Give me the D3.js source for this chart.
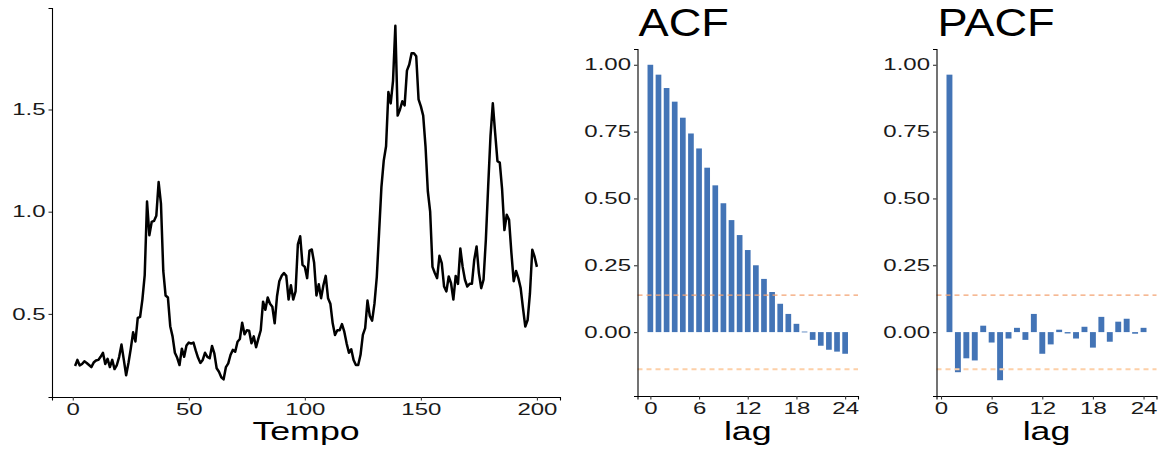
<!DOCTYPE html>
<html>
<head>
<meta charset="utf-8">
<script src="https://cdn.jsdelivr.net/npm/d3@7"></script>
<style>
  html, body { margin: 0; padding: 0; background: #fff; }
  svg { display: block; font-family: "Liberation Sans", Arial, sans-serif; }
</style>
</head>
<body>
<svg id="chart" width="1166" height="450"></svg>
<script>
// Observed series, t = 1..200
const serie = [
  0.245, 0.275, 0.248, 0.255, 0.268, 0.26, 0.25, 0.24, 0.262, 0.272,
  0.275, 0.29, 0.31, 0.255, 0.28, 0.24, 0.275, 0.23, 0.25, 0.29,
  0.35, 0.275, 0.2, 0.26, 0.33, 0.41, 0.365, 0.48, 0.485, 0.57,
  0.69, 1.05, 0.885, 0.95, 0.955, 0.98, 1.145, 1.04, 0.71, 0.59,
  0.58, 0.44, 0.39, 0.31, 0.285, 0.25, 0.33, 0.29, 0.345, 0.36,
  0.355, 0.36, 0.32, 0.285, 0.26, 0.275, 0.31, 0.29, 0.283, 0.343,
  0.307, 0.234, 0.217, 0.19, 0.18, 0.24, 0.258, 0.30, 0.324, 0.315,
  0.364, 0.377, 0.457, 0.40, 0.42, 0.418, 0.356, 0.39, 0.337, 0.38,
  0.42, 0.56, 0.52, 0.58, 0.55, 0.535, 0.454, 0.585, 0.66, 0.686,
  0.70, 0.686, 0.57, 0.64, 0.57, 0.61, 0.84, 0.88, 0.74, 0.73,
  0.675, 0.81, 0.815, 0.75, 0.59, 0.645, 0.577, 0.64, 0.686, 0.577,
  0.55, 0.454, 0.397, 0.42, 0.42, 0.45, 0.413, 0.356, 0.31, 0.327,
  0.275, 0.25, 0.25, 0.30, 0.397, 0.43, 0.565, 0.49, 0.467, 0.55,
  0.68, 0.90, 1.12, 1.25, 1.32, 1.585, 1.53, 1.64, 1.91, 1.47,
  1.50, 1.54, 1.52, 1.69, 1.72, 1.775, 1.775, 1.76, 1.55, 1.515,
  1.47, 1.32, 1.10, 1.00, 0.73, 0.70, 0.675, 0.784, 0.748, 0.634,
  0.61, 0.683, 0.65, 0.57, 0.686, 0.647, 0.82, 0.73, 0.667, 0.634,
  0.647, 0.647, 0.765, 0.83, 0.70, 0.626, 0.667, 0.863, 1.124, 1.37,
  1.53, 1.386, 1.247, 1.24, 1.11, 0.91, 0.985, 0.96, 0.80, 0.66,
  0.71, 0.675, 0.626, 0.528, 0.438, 0.47, 0.60, 0.814, 0.78, 0.73
];

// Autocorrelation, lags 0..24
const acfLags = d3.range(0, 25);
const acfValues = [
  1.000, 0.963, 0.913, 0.862, 0.802, 0.743, 0.687, 0.615, 0.549, 0.482,
  0.419, 0.363, 0.307, 0.250, 0.199, 0.150, 0.106, 0.068, 0.031, 0.002,
  -0.029, -0.051, -0.066, -0.073, -0.081
];

// Partial autocorrelation, lags 1..24
const pacfLags = d3.range(1, 25);
const pacfValues = [
  0.963, -0.150, -0.098, -0.106, 0.024, -0.039, -0.180, -0.024, 0.016, -0.029,
  0.068, -0.081, -0.046, 0.009, -0.005, -0.024, 0.020, -0.058, 0.057, -0.036,
  0.039, 0.050, -0.006, 0.016
];

const tsTicks = [0.5, 1.0, 1.5];
const timeTicks = [0, 50, 100, 150, 200];
const corrTicks = [0, 0.25, 0.5, 0.75, 1.0];
const lagTicks = [0, 6, 12, 18, 24];
const nObs = serie.length;
const band = 1.96 / Math.sqrt(nObs);

const svg = d3.select("#chart");
const barColor = "#4374B6";
const tickFont = 16;
const tickStretch = 1.5;   // wide glyphs for tick labels
const labelStretch = 1.43; // axis titles
const titleStretch = 1.19; // panel titles

// expand a [min,max] range by 5% on each side
function expand(ext, f = 0.05) {
  const r = ext[1] - ext[0];
  return [ext[0] - r * f, ext[1] + r * f];
}

// widen text horizontally around its anchor point
function stretchText(sel, s) {
  sel.each(function () {
    const t = d3.select(this);
    const x = +t.attr("x") || 0;
    t.attr("x", x / s).attr("transform", `scale(${s},1)`);
  });
}

function styleAxis(g) {
  g.selectAll(".domain").attr("stroke", "#000").attr("stroke-width", 1.1);
  g.selectAll(".tick line").attr("stroke", "#333").attr("stroke-width", 1.1);
  const txt = g.selectAll(".tick text").attr("fill", "#1a1a1a").style("font-size", tickFont + "px")
    .style("font-family", "'Liberation Sans', Arial, sans-serif");
  stretchText(txt, tickStretch);
}

function wideText(x, y, size, s, anchor, str) {
  svg.append("text")
    .attr("transform", `translate(${x},${y}) scale(${s},1)`)
    .attr("text-anchor", anchor)
    .style("font-size", size + "px").attr("fill", "#000").text(str);
}

// ---------- Time series panel ----------
{
  const left = 52, right = 560, top = 8, bottom = 397;
  const tData = serie.map((v, i) => ({ t: i + 1, v }));
  const x = d3.scaleLinear().domain(expand([1, nObs])).range([left, right]);
  const y = d3.scaleLinear().domain(expand(d3.extent(serie))).range([bottom, top]);

  const line = d3.line().x(d => x(d.t)).y(d => y(d.v)).curve(d3.curveLinear);
  svg.append("path").datum(tData)
    .attr("d", line).attr("fill", "none").attr("stroke", "#000")
    .attr("stroke-width", 2.5).attr("stroke-linejoin", "round");

  const gx = svg.append("g").attr("transform", `translate(0,${bottom})`)
    .call(d3.axisBottom(x).tickValues(timeTicks).tickSize(3.5).tickPadding(3).tickFormat(d3.format("d")));
  styleAxis(gx);
  const gy = svg.append("g").attr("transform", `translate(${left},0)`)
    .call(d3.axisLeft(y).tickValues(tsTicks).tickSize(3.5).tickPadding(3).tickFormat(d3.format(".1f")));
  styleAxis(gy);

  wideText((left + right) / 2, 440, 25, labelStretch, "middle", "Tempo");
}

// ---------- Correlogram panels ----------
const corrDomain = expand([d3.min(acfValues.concat(pacfValues, [-band])), 1.0]);

function correlogram(lags, values, left, right, title) {
  const top = 49, bottom = 396;
  const w = 0.7;
  const x = d3.scaleLinear()
    .domain(expand([d3.min(lags) - w / 2, d3.max(lags) + w / 2]))
    .range([left, right]);
  const y = d3.scaleLinear().domain(corrDomain).range([bottom, top]);
  const bw = x(w) - x(0);

  svg.append("g").selectAll("rect").data(lags.map((l, i) => ({ l, v: values[i] })))
    .join("rect")
    .attr("x", d => x(d.l) - bw / 2)
    .attr("width", bw)
    .attr("y", d => y(Math.max(0, d.v)))
    .attr("height", d => Math.max(0.8, Math.abs(y(d.v) - y(0))))
    .attr("fill", barColor);

  // significance bounds
  svg.append("line").attr("x1", left).attr("x2", right)
    .attr("y1", y(band)).attr("y2", y(band))
    .attr("stroke", "#F3A272").attr("stroke-width", 1.2).attr("stroke-dasharray", "5,4");
  svg.append("line").attr("x1", left).attr("x2", right)
    .attr("y1", y(-band)).attr("y2", y(-band))
    .attr("stroke", "#FDD0A8").attr("stroke-width", 2).attr("stroke-dasharray", "5,4");

  const gx = svg.append("g").attr("transform", `translate(0,${bottom})`)
    .call(d3.axisBottom(x).tickValues(lagTicks).tickSize(3.5).tickPadding(3).tickFormat(d3.format("d")));
  styleAxis(gx);
  const gy = svg.append("g").attr("transform", `translate(${left},0)`)
    .call(d3.axisLeft(y).tickValues(corrTicks).tickSize(3.5).tickPadding(3).tickFormat(d3.format(".2f")));
  styleAxis(gy);

  wideText(left + 1, 36, 38, titleStretch, "start", title);
  wideText((left + right) / 2, 440, 25, labelStretch, "middle", "lag");
}

correlogram(acfLags, acfValues, 637.5, 858, "ACF");
correlogram(pacfLags, pacfValues, 936.5, 1156.5, "PACF");
</script>
</body>
</html>
